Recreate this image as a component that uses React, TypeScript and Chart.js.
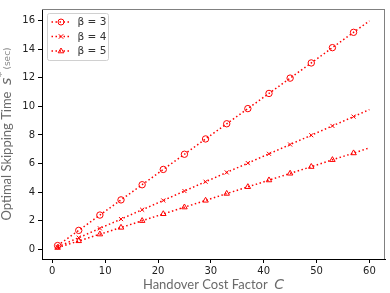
import React, { useEffect, useRef } from 'react';
import { Chart, registerables } from 'chart.js';

Chart.register(...registerables);

// Handover cost factor C (markers on every point except the last one at C = 60)
const C_VALUES = [1, 5, 9, 13, 17, 21, 25, 29, 33, 37, 41, 45, 49, 53, 57, 60];
const BETA3 = [0.27, 1.33, 2.4, 3.46, 4.52, 5.59, 6.65, 7.72, 8.78, 9.84, 10.9, 11.97, 13.03, 14.1, 15.17, 15.97];
const BETA4 = [0.17, 0.82, 1.47, 2.12, 2.77, 3.42, 4.08, 4.73, 5.38, 6.03, 6.68, 7.33, 7.98, 8.63, 9.28, 9.77];
const BETA5 = [0.12, 0.59, 1.06, 1.53, 2.0, 2.48, 2.95, 3.42, 3.9, 4.37, 4.84, 5.31, 5.78, 6.26, 6.73, 7.1];
const SERIES_LABELS = ['β = 3', 'β = 4', 'β = 5'];
const X_TICKS = [0, 10, 20, 30, 40, 50, 60];
const Y_TICKS = [0, 2, 4, 6, 8, 10, 12, 14, 16];

const RED = '#ff0000';
const STYLES = ['circle', 'crossRot', 'triangle'];
const TITLE_FONT = "13px 'Lato'";
const MATH_FONT = "italic 14px 'DejaVu Sans'";
const TITLE_COLOR = '#6a6a6a';

function drawMarker(ctx: CanvasRenderingContext2D, style: string, x: number, y: number, r: number) {
  ctx.save();
  ctx.strokeStyle = RED;
  ctx.lineWidth = 1;
  ctx.setLineDash([]);
  ctx.beginPath();
  if (style === 'circle') {
    ctx.arc(x, y, r, 0, Math.PI * 2);
  } else if (style === 'crossRot') {
    const d = r * 0.75;
    ctx.moveTo(x - d, y - d);
    ctx.lineTo(x + d, y + d);
    ctx.moveTo(x + d, y - d);
    ctx.lineTo(x - d, y + d);
  } else {
    ctx.moveTo(x, y - r);
    ctx.lineTo(x + r * 0.95, y + r * 0.6);
    ctx.lineTo(x - r * 0.95, y + r * 0.6);
    ctx.closePath();
  }
  ctx.stroke();
  ctx.restore();
}

const decorPlugin = {
  id: 'decor',
  afterDraw(chart: any) {
    const ctx: CanvasRenderingContext2D = chart.ctx;
    const a = chart.chartArea;
    ctx.save();
    // top & right spines
    ctx.strokeStyle = '#808080';
    ctx.lineWidth = 1;
    ctx.beginPath();
    ctx.moveTo(a.left, a.top + 0.5);
    ctx.lineTo(a.right, a.top + 0.5);
    ctx.moveTo(a.right - 0.5, a.top);
    ctx.lineTo(a.right - 0.5, a.bottom);
    ctx.stroke();

    // legend box
    const bx = a.left + 5.5, by = a.top + 4.5, bw = 61, bh = 47;
    ctx.fillStyle = 'rgba(255,255,255,0.85)';
    ctx.strokeStyle = '#d0d0d0';
    ctx.lineWidth = 1;
    ctx.beginPath();
    (ctx as any).roundRect(bx, by, bw, bh, 2);
    ctx.fill();
    ctx.stroke();
    const rows = [by + 8.5, by + 23, by + 37.5];
    SERIES_LABELS.forEach((lab, i) => {
      const yy = rows[i];
      ctx.save();
      ctx.strokeStyle = RED;
      ctx.lineWidth = 1.5;
      ctx.setLineDash([1.5, 2.5]);
      ctx.beginPath();
      ctx.moveTo(bx + 4, yy);
      ctx.lineTo(bx + 22, yy);
      ctx.stroke();
      ctx.restore();
      drawMarker(ctx, STYLES[i], bx + 13.5, yy, 3);
      ctx.fillStyle = '#333';
      ctx.font = "10.5px 'DejaVu Sans'";
      ctx.textBaseline = 'middle';
      ctx.textAlign = 'left';
      ctx.fillText(lab, bx + 30, yy + 0.5);
    });

    // x-axis title
    ctx.textBaseline = 'alphabetic';
    const xt1 = 'Handover Cost Factor';
    ctx.font = TITLE_FONT;
    const w1 = ctx.measureText(xt1 + '  ').width;
    ctx.font = MATH_FONT;
    const w2 = ctx.measureText('C').width;
    const sx = (a.left + a.right) / 2 - (w1 + w2) / 2;
    ctx.fillStyle = TITLE_COLOR;
    ctx.font = TITLE_FONT;
    ctx.fillText(xt1, sx, 289);
    ctx.font = MATH_FONT;
    ctx.fillText('C', sx + w1, 289);

    // y-axis title (rotated)
    ctx.save();
    ctx.translate(11, (a.top + a.bottom) / 2);
    ctx.rotate(-Math.PI / 2);
    const yt1 = 'Optimal Skipping Time';
    ctx.font = TITLE_FONT;
    const p1 = ctx.measureText(yt1 + '  ').width;
    ctx.font = MATH_FONT;
    const p2 = ctx.measureText('s').width;
    ctx.font = "10px 'DejaVu Sans'";
    const p3 = ctx.measureText('*').width + 3;
    ctx.font = "9px 'DejaVu Sans'";
    const p4 = ctx.measureText('(sec)').width;
    let px = -(p1 + p2 + p3 + p4) / 2;
    ctx.fillStyle = TITLE_COLOR;
    ctx.font = TITLE_FONT;
    ctx.fillText(yt1, px, 0);
    px += p1;
    ctx.font = MATH_FONT;
    ctx.fillText('s', px, 0);
    px += p2;
    ctx.font = "10px 'DejaVu Sans'";
    ctx.fillText('*', px + 0.5, -6);
    px += p3;
    ctx.fillStyle = '#888';
    ctx.font = "9px 'DejaVu Sans'";
    ctx.fillText('(sec)', px, -1);
    ctx.restore();

    ctx.restore();
  },
};

export default function App() {
  const ref = useRef<HTMLCanvasElement | null>(null);
  useEffect(() => {
    document.body.style.margin = '0';
    if (!ref.current) return;
    const series = [BETA3, BETA4, BETA5];
    const radii = C_VALUES.map((_, i) => (i === C_VALUES.length - 1 ? 0 : 3.2));
    const chart = new Chart(ref.current, {
      type: 'line',
      data: {
        datasets: series.map((vals, i) => ({
          label: SERIES_LABELS[i],
          data: C_VALUES.map((c, j) => ({ x: c, y: vals[j] })),
          borderColor: RED,
          backgroundColor: 'rgba(0,0,0,0)',
          borderWidth: 1.5,
          borderDash: [1.5, 2.5],
          borderCapStyle: 'butt',
          pointStyle: STYLES[i] as any,
          pointRadius: radii.map((r) => (i === 1 ? r * 0.9 : r)),
          pointBorderWidth: 1,
          pointBorderColor: RED,
          pointBackgroundColor: 'rgba(0,0,0,0)',
          tension: 0,
          fill: false,
        })),
      },
      options: {
        animation: false,
        responsive: false,
        devicePixelRatio: 1,
        layout: { padding: { top: 1, right: 1, left: 0, bottom: 0 } },
        plugins: {
          legend: { display: false },
          tooltip: { enabled: false },
          title: { display: false },
        },
        scales: {
          x: {
            type: 'linear',
            min: -1.95,
            max: 62.95,
            afterBuildTicks: (s: any) => {
              s.ticks = X_TICKS.map((v) => ({ value: v }));
            },
            afterFit: (s: any) => {
              s.height = 34;
            },
            grid: { drawOnChartArea: false, drawTicks: true, tickLength: 4, color: '#000', tickWidth: 1 },
            border: { display: true, color: '#000', width: 1 },
            ticks: {
              font: { family: 'DejaVu Sans', size: 10 },
              color: '#222',
              padding: 2,
              maxRotation: 0,
              autoSkip: false,
            },
          },
          y: {
            type: 'linear',
            min: -0.67,
            max: 16.8,
            afterBuildTicks: (s: any) => {
              s.ticks = Y_TICKS.map((v) => ({ value: v }));
            },
            afterFit: (s: any) => {
              s.width = 42;
            },
            grid: { drawOnChartArea: false, drawTicks: true, tickLength: 4, color: '#000', tickWidth: 1 },
            border: { display: true, color: '#000', width: 1 },
            ticks: {
              font: { family: 'DejaVu Sans', size: 10 },
              color: '#222',
              padding: 3,
              autoSkip: false,
            },
          },
        },
      },
      plugins: [decorPlugin],
    });
    return () => chart.destroy();
  }, []);
  return (
    <div style={{ width: 390, height: 293 }}>
      <canvas ref={ref} width={390} height={293} style={{ display: 'block' }} />
    </div>
  );
}
